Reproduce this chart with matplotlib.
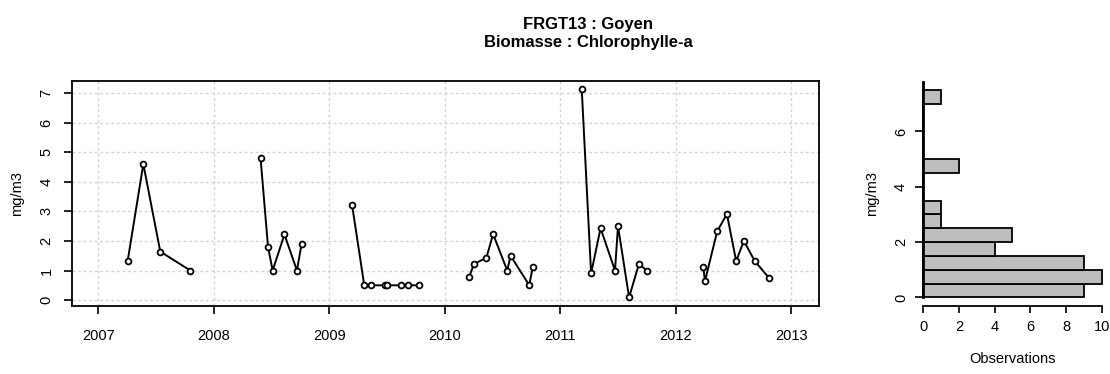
import numpy as np
import matplotlib.pyplot as plt

plt.rcParams['font.family'] = ['Liberation Sans', 'DejaVu Sans']

# sampling dates (decimal years) and chlorophyll-a values, one list per year
years = [2007, 2008, 2009, 2010, 2011, 2012]
dates = [
    [2007.254, 2007.390, 2007.537, 2007.797],
    [2008.405, 2008.470, 2008.510, 2008.612, 2008.720, 2008.761],
    [2009.197, 2009.303, 2009.360, 2009.486, 2009.497, 2009.617, 2009.686, 2009.777],
    [2010.212, 2010.253, 2010.360, 2010.419, 2010.541, 2010.570, 2010.732, 2010.761],
    [2011.186, 2011.267, 2011.349, 2011.474, 2011.500, 2011.596, 2011.681, 2011.750],
    [2012.239, 2012.253, 2012.359, 2012.443, 2012.523, 2012.590, 2012.684, 2012.810],
]
chla = [
    [1.31, 4.60, 1.64, 1.00],
    [4.81, 1.79, 1.00, 2.22, 1.00, 1.91],
    [3.23, 0.50, 0.50, 0.50, 0.50, 0.50, 0.50, 0.50],
    [0.79, 1.22, 1.43, 2.23, 1.00, 1.50, 0.50, 1.11],
    [7.14, 0.90, 2.43, 1.00, 2.50, 0.09, 1.22, 1.00],
    [1.11, 0.64, 2.33, 2.91, 1.32, 2.00, 1.32, 0.74],
]
bin_edges = np.arange(0, 7.51, 0.5)

fig = plt.figure(figsize=(11.1, 3.74), dpi=100)

# time series
ax = fig.add_axes([0.0646, 0.1826, 0.6732, 0.6016])
for d, v in zip(dates, chla):
    ax.plot(d, v, color='black', lw=1.4, marker='o', ms=4.2, mfc='white',
            mec='black', mew=1.3)
ax.set_xlim(2006.77, 2013.24)
ax.set_ylim(-0.19, 7.42)
ax.set_xticks(range(2007, 2014))
ax.set_yticks(range(0, 8))
ax.grid(True, color='#D3D3D3', linestyle=(0, (2, 2)), lw=1)
ax.set_axisbelow(True)
for s in ax.spines.values():
    s.set_linewidth(1.3)
ax.tick_params(axis='x', length=6, width=1.2, pad=11, labelsize=10.5)
ax.tick_params(axis='y', length=6, width=1.2, pad=7, labelsize=10.5, labelrotation=90)
for lab in ax.get_yticklabels():
    lab.set_va('center')
ax.set_ylabel('mg/m3', fontsize=10.5, labelpad=11)

# histogram of all values, right-closed bins
allv = np.concatenate([np.array(v) for v in chla])
idx = np.searchsorted(bin_edges, allv, side='left') - 1
counts = np.bincount(idx, minlength=len(bin_edges) - 1)

ah = fig.add_axes([0.8254, 0.1826, 0.1735, 0.5990])
ah.barh(bin_edges[:-1], counts, height=0.5, align='edge', color='#BEBEBE',
        edgecolor='black', lw=1.3)
ah.set_xlim(-0.4, 10.4)
ah.set_ylim(-0.3, 7.8)
ah.set_xticks(range(0, 11, 2))
ah.set_yticks(range(0, 7, 2))
ah.spines['top'].set_visible(False)
ah.spines['right'].set_visible(False)
ah.spines['left'].set_position(('data', 0))
ah.spines['left'].set_bounds(0, 7.8)
ah.spines['left'].set_linewidth(2)
ah.spines['bottom'].set_bounds(0, 10)
ah.spines['bottom'].set_linewidth(1.3)
ah.tick_params(axis='x', length=5, width=1.2, pad=5, labelsize=10.5)
ah.tick_params(axis='y', length=6, width=1.2, pad=5, labelsize=10.5, labelrotation=90)
for lab in ah.get_yticklabels():
    lab.set_va('center')
ah.set_xlabel('Observations', fontsize=10.5, labelpad=13)
ah.set_ylabel('mg/m3', fontsize=10.5, labelpad=11)

fig.text(0.530, 0.935, 'FRGT13 : Goyen', ha='center', va='center',
         fontsize=12, fontweight='bold')
fig.text(0.530, 0.887, 'Biomasse : Chlorophylle-a', ha='center', va='center',
         fontsize=12, fontweight='bold')

fig.savefig('out.png', dpi=100)
